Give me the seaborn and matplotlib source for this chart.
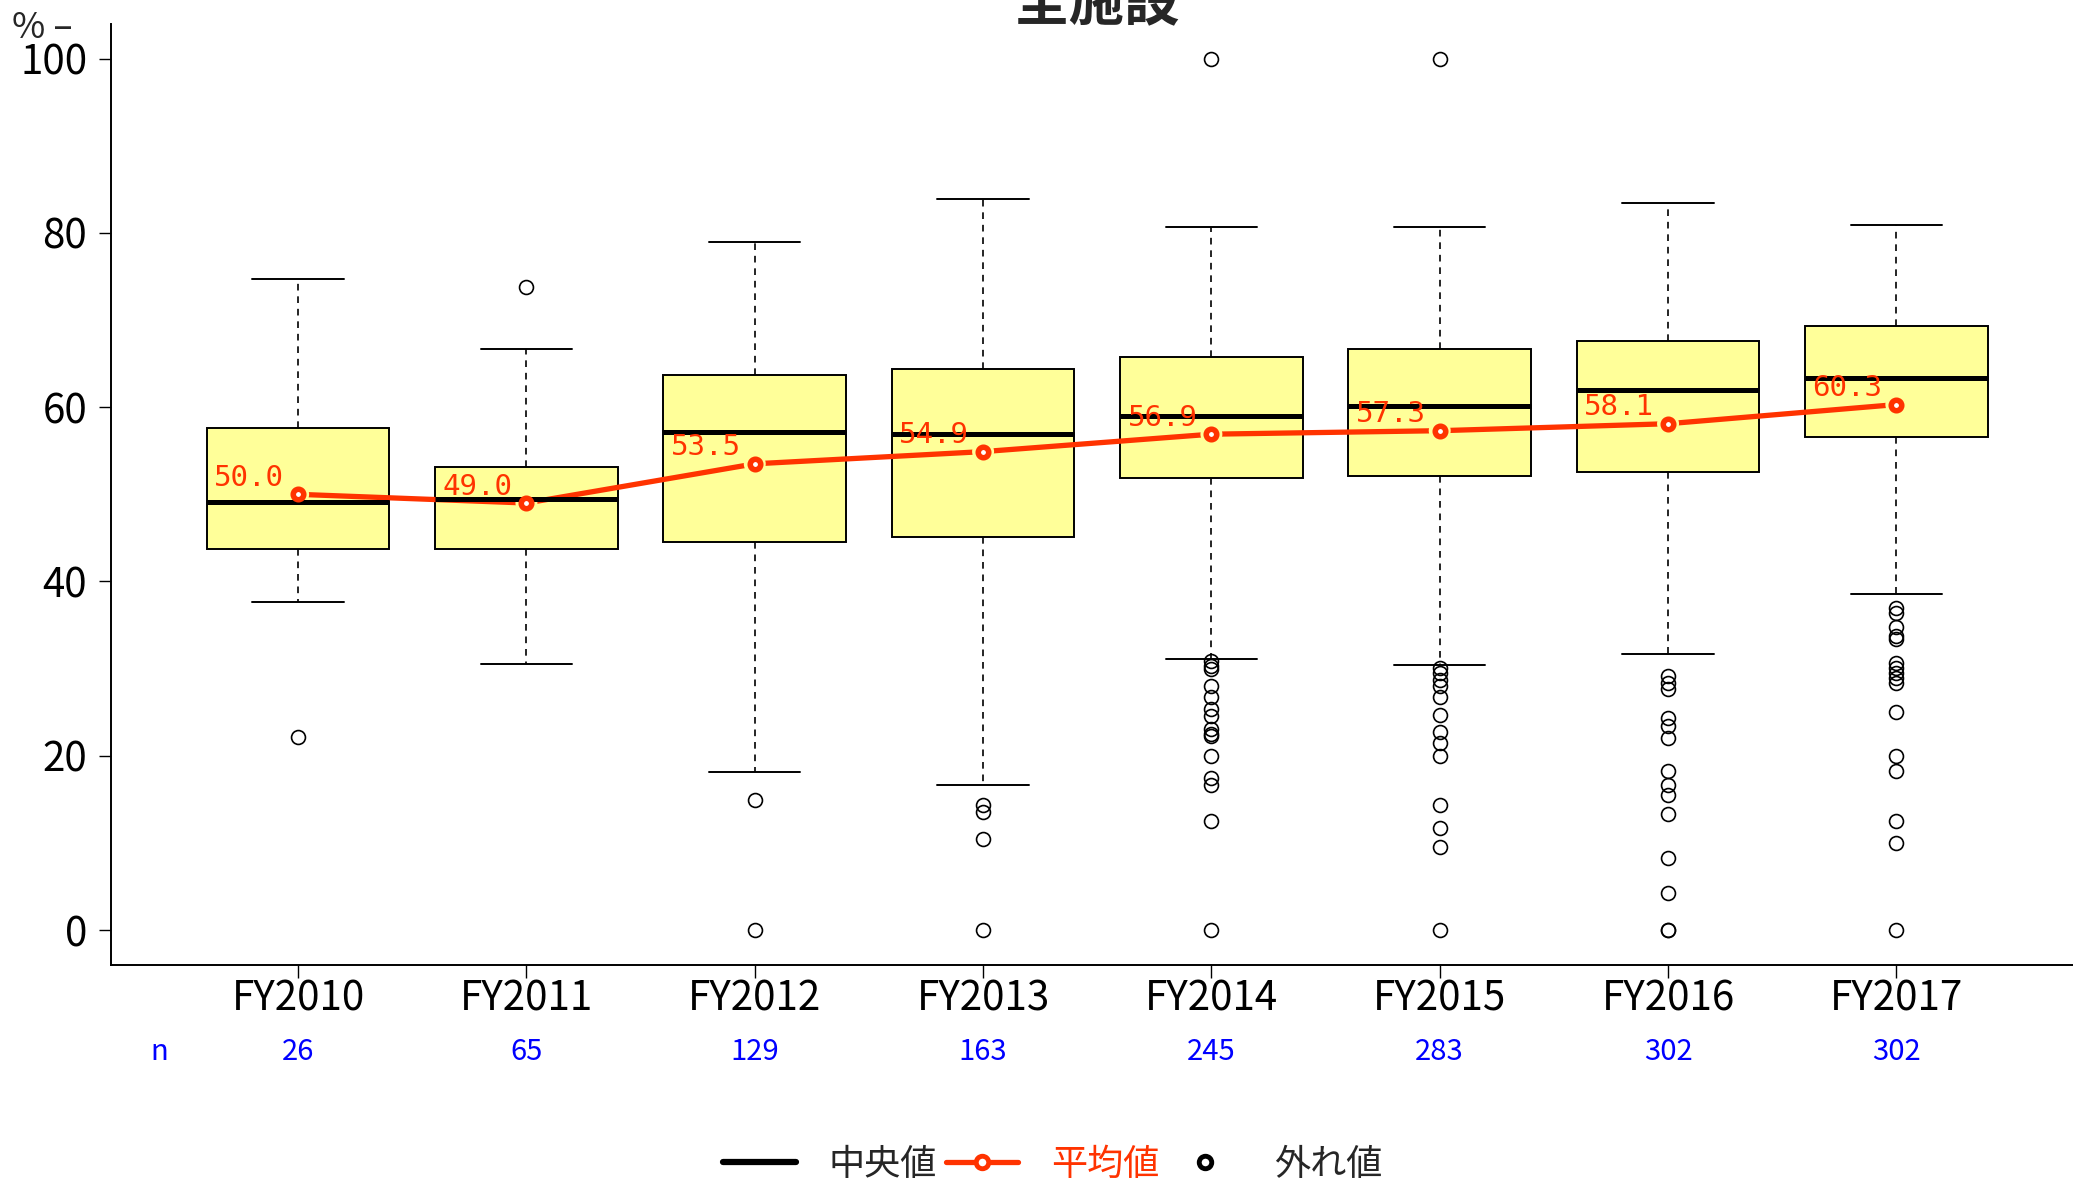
import numpy as np
import pandas as pd
import seaborn as sns
import matplotlib.pyplot as plt
from matplotlib.lines import Line2D
from matplotlib.transforms import blended_transform_factory

years = ["FY2010", "FY2011", "FY2012", "FY2013", "FY2014", "FY2015", "FY2016", "FY2017"]
n_counts = [26, 65, 129, 163, 245, 283, 302, 302]
medians = [49.1, 49.5, 57.2, 56.9, 59.0, 60.1, 62.0, 63.4]
q1 = [43.7, 43.7, 44.5, 45.1, 51.9, 52.1, 52.6, 56.6]
q3 = [57.6, 53.1, 63.7, 64.4, 65.8, 66.7, 67.6, 69.3]
whisk_lo = [37.7, 30.5, 18.1, 16.7, 31.1, 30.4, 31.7, 38.6]
whisk_hi = [74.7, 66.7, 78.9, 83.9, 80.7, 80.7, 83.4, 80.9]
means = [50.0, 49.0, 53.5, 54.9, 56.9, 57.3, 58.1, 60.3]

out_2010 = [22.2]
out_2011 = [73.8]
out_2012 = [14.9, 0.0]
out_2013 = [14.3, 13.5, 10.4, 0.0]
out_2014 = [100.0, 30.9, 30.3, 30.0, 28.0, 26.7, 25.4, 24.6, 23.1, 22.5, 22.3, 20.0, 17.5, 16.7, 12.5, 0.0]
out_2015 = [100.0, 30.1, 29.5, 28.7, 28.0, 26.7, 24.7, 22.7, 21.5, 20.0, 14.3, 11.7, 9.5, 0.0]
out_2016 = [29.1, 28.4, 27.7, 24.3, 23.4, 22.0, 18.2, 16.7, 15.5, 13.3, 8.3, 4.3, 0.0, 0.0]
out_2017 = [36.9, 36.4, 34.8, 33.8, 33.4, 30.7, 30.1, 29.5, 28.9, 28.3, 25.0, 20.0, 18.2, 12.5, 10.0, 0.0]
outliers = [out_2010, out_2011, out_2012, out_2013, out_2014, out_2015, out_2016, out_2017]

red = "#FF3300"
box_yellow = "#FFFF99"

sns.set_theme(style="white")
plt.rcParams['font.family'] = ['Liberation Sans Narrow', 'Noto Sans CJK JP', 'DejaVu Sans']

fig = plt.figure(figsize=(20.73, 11.84), dpi=100)
ax = fig.add_axes([0.0535, 0.185, 0.9516, 0.795])

pos = np.arange(1, len(years) + 1)
stats = [dict(med=m, q1=a, q3=b, whislo=lo, whishi=hi, fliers=f)
         for m, a, b, lo, hi, f in zip(medians, q1, q3, whisk_lo, whisk_hi, outliers)]
ax.bxp(stats, positions=pos, widths=0.8, capwidths=0.4, patch_artist=True, manage_ticks=False,
       boxprops=dict(facecolor=box_yellow, edgecolor='black', linewidth=1.4),
       medianprops=dict(color='black', linewidth=3.6, zorder=5, solid_capstyle='butt'),
       whiskerprops=dict(color='black', linewidth=1.2, linestyle=(0, (4, 3.5))),
       capprops=dict(color='black', linewidth=1.4),
       flierprops=dict(marker='o', markerfacecolor='none', markeredgecolor='black',
                       markersize=10, markeredgewidth=1.2))

# mean line (type="b" style: small gap around each point)
mean_df = pd.DataFrame({"pos": pos, "mean": means})
sns.lineplot(data=mean_df, x="pos", y="mean", color=red, linewidth=3.8, zorder=3, ax=ax)
sns.scatterplot(data=mean_df, x="pos", y="mean", s=250, color=box_yellow, edgecolor='none', zorder=4, ax=ax)
sns.scatterplot(data=mean_df, x="pos", y="mean", s=57, color='white', edgecolor=red, linewidth=4.0, zorder=6, ax=ax)
for p, m in zip(pos, means):
    ax.annotate(f"{m:.1f}", (p, m), xytext=(-10, 6), textcoords='offset points', ha='right',
                va='baseline', color=red, fontsize=21, family='DejaVu Sans Mono', zorder=7)

ax.set_xlim(0.18, 8.82)
ax.set_ylim(-4, 104)
ax.set_xticks(pos, years)
ax.set_yticks(range(0, 101, 20))
ax.set_xlabel("")
ax.set_ylabel("")
ax.tick_params(axis='both', direction='out', length=9, width=1, labelsize=29, colors='black',
               bottom=True, left=True)
ax.tick_params(axis='x', pad=1)
ax.tick_params(axis='y', pad=8)
sns.despine(ax=ax)
for s in ['left', 'bottom']:
    ax.spines[s].set_color('black')
    ax.spines[s].set_linewidth(1.4)

# n row under the axis
tr = blended_transform_factory(ax.transData, fig.transFigure)
fig.text(0.0767, 0.1115, "n", color='#0000FF', fontsize=21, ha='center', va='center')
for p, n in zip(pos, n_counts):
    ax.text(p, 0.1115, str(n), transform=tr, color='#0000FF', fontsize=21, ha='center', va='center')

fig.text(0.006, 1 - 28 / 1184, "% –", fontsize=26, ha='left', va='center')
fig.text(0.529, 0.983, "全施設", fontsize=40, fontweight='bold', ha='center', va='baseline',
         family=['Noto Sans CJK JP'])

h1 = Line2D([], [], color='black', lw=4.5)
h2 = Line2D([], [], color=red, lw=3.8, marker='o', ms=9, mfc='white', mec=red, mew=3.5)
h3 = Line2D([], [], color='none', marker='o', ms=9, mfc='white', mec='black', mew=3.5)
leg = fig.legend([h1, h2, h3], ["中央値", "平均値", "外れ値"], loc='center', bbox_to_anchor=(0.508, 0.016),
                 ncol=3, frameon=False, handlelength=2.0, handletextpad=0.92, columnspacing=0.25,
                 prop={'family': ['Noto Sans CJK JP'], 'size': 26})
leg.get_texts()[1].set_color(red)

fig.savefig("out.png", dpi=100)
